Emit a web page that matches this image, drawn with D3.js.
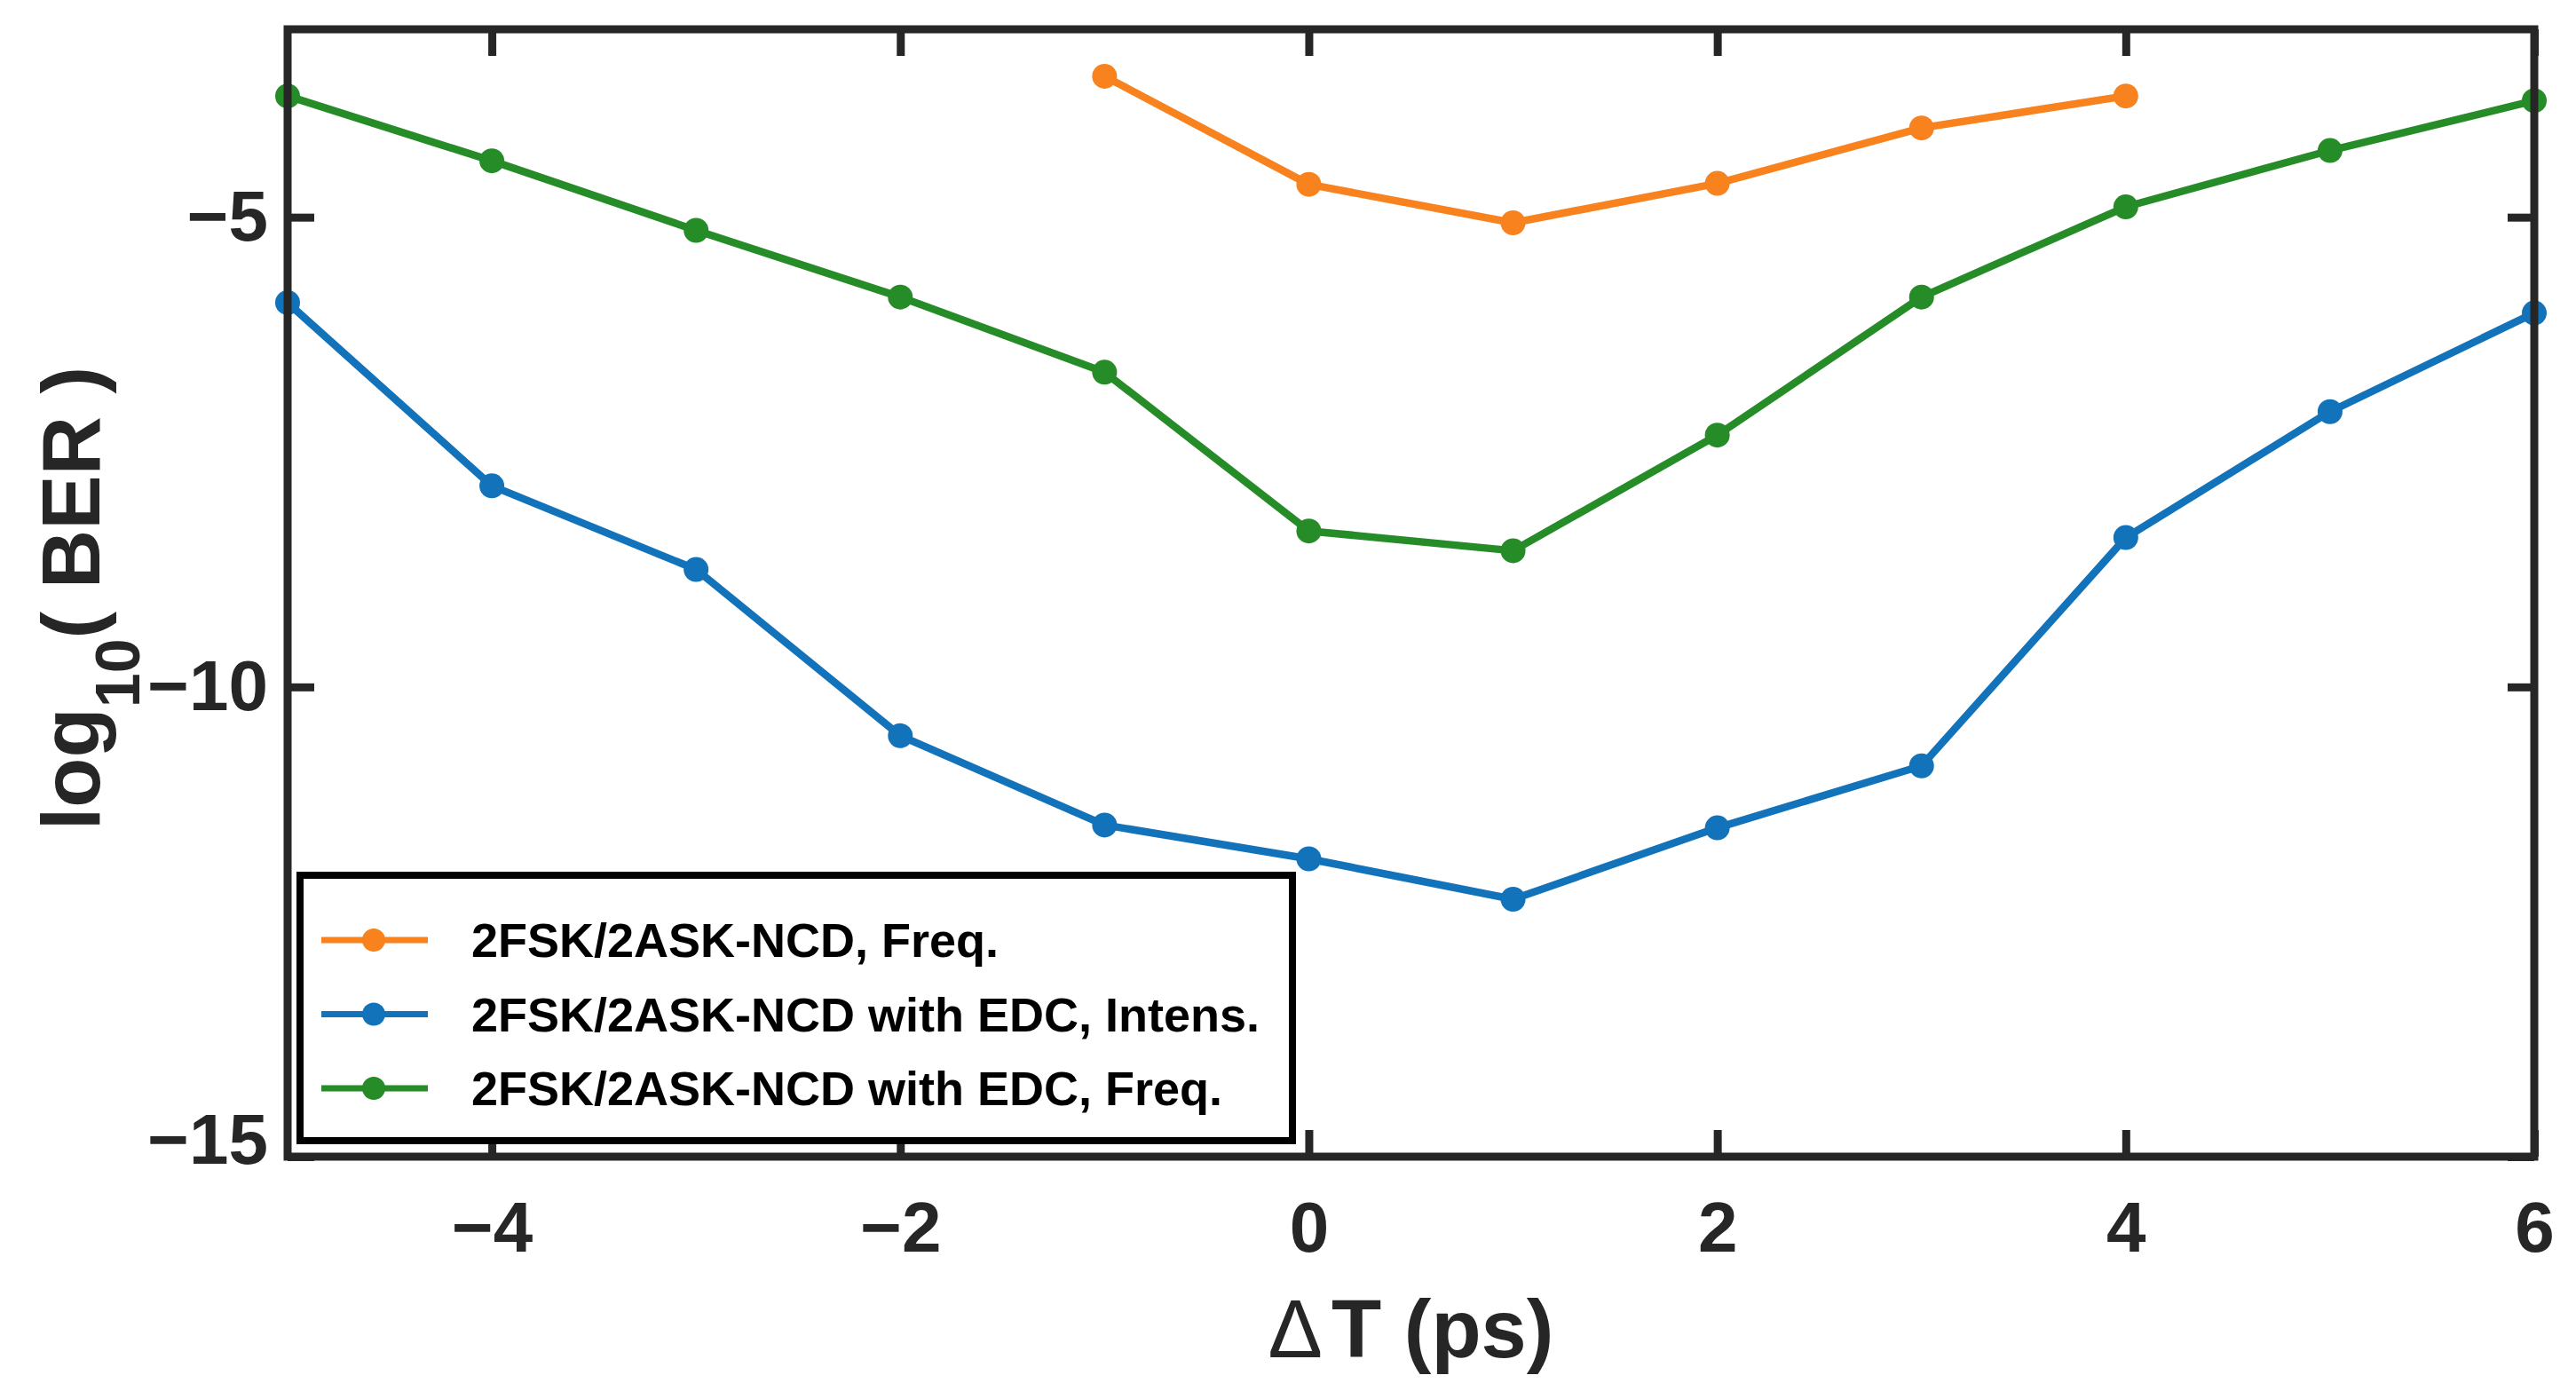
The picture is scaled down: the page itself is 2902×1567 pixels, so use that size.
<!DOCTYPE html>
<html lang="en">
<head>
  <meta charset="UTF-8">
  <title>BER vs delta T</title>
<script src="https://d3js.org/d3.v7.min.js"></script>
<style>
  body { margin: 0; background: #fff; }
  svg { display: block; font-family: "Liberation Sans", Arial, sans-serif; font-weight: bold; }
</style>
</head>
<body>
<div id="chart"></div>

<script>

const xFreq = [-1, 0, 1, 2, 3, 4];
const berFreq = [-3.50, -4.65, -5.06, -4.64, -4.05, -3.71];

const xEdc = [-5, -4, -3, -2, -1, 0, 1, 2, 3, 4, 5, 6];
const berEdcIntens = [-5.91, -7.86, -8.75, -10.52, -11.47, -11.83, -12.26, -11.50, -10.84, -8.41, -7.07, -6.02];
const berEdcFreq = [-3.71, -4.40, -5.14, -5.85, -6.65, -8.34, -8.55, -7.32, -5.85, -4.89, -4.29, -3.76];

const seriesNames = [
  '2FSK/2ASK-NCD, Freq.',
  '2FSK/2ASK-NCD with EDC, Intens.',
  '2FSK/2ASK-NCD with EDC, Freq.'
];
const colors = ['#F7821E', '#1272BA', '#258C27'];

const xTicks = [-4, -2, 0, 2, 4, 6];
const yTicks = [-15, -10, -5];

const series = [
  { name: seriesNames[0], color: colors[0], pts: xFreq.map((x, i) => [x, berFreq[i]]) },
  { name: seriesNames[1], color: colors[1], pts: xEdc.map((x, i) => [x, berEdcIntens[i]]) },
  { name: seriesNames[2], color: colors[2], pts: xEdc.map((x, i) => [x, berEdcFreq[i]]) }
];

const width = 2902;
const height = 1567;
const margin = { left: 324, right: 2855, top: 33, bottom: 1303 };
const axisColor = '#262626';

const x = d3.scaleLinear().domain([-5, 6]).range([margin.left, margin.right]);
const y = d3.scaleLinear().domain([-15, -3]).range([margin.bottom, margin.top]);

const svg = d3.select('#chart')
  .append('svg')
  .attr('width', width)
  .attr('height', height);

// data lines
const line = d3.line().x(d => x(d[0])).y(d => y(d[1]));

series.forEach(s => {
  const g = svg.append('g');
  g.append('path')
    .datum(s.pts)
    .attr('d', line)
    .attr('fill', 'none')
    .attr('stroke', s.color)
    .attr('stroke-width', 8.5)
    .attr('stroke-linejoin', 'round');
  g.selectAll('circle')
    .data(s.pts)
    .enter()
    .append('circle')
    .attr('cx', d => x(d[0]))
    .attr('cy', d => y(d[1]))
    .attr('r', 14)
    .attr('fill', s.color);
});

// axes, ticks pointing inward on all four sides
function styleAxis(g) {
  g.select('.domain').remove();
  g.selectAll('.tick line').attr('stroke', axisColor).attr('stroke-width', 9);
  g.selectAll('.tick text')
    .attr('fill', axisColor)
    .attr('font-size', 80)
    .attr('font-weight', 'bold')
    .attr('font-family', '"Liberation Sans", Arial, sans-serif');
}

svg.append('g')
  .attr('transform', `translate(0,${margin.bottom})`)
  .call(d3.axisBottom(x).tickValues(xTicks).tickSizeInner(-30).tickSizeOuter(0).tickPadding(50))
  .call(styleAxis);

svg.append('g')
  .attr('transform', `translate(0,${margin.top})`)
  .call(d3.axisTop(x).tickValues(xTicks).tickSizeInner(-30).tickSizeOuter(0).tickFormat(''))
  .call(styleAxis);

svg.append('g')
  .attr('transform', `translate(${margin.left},0)`)
  .call(d3.axisLeft(y).tickValues(yTicks).tickSizeInner(-30).tickSizeOuter(0).tickPadding(22))
  .call(styleAxis)
  .call(g => g.selectAll('.tick text').filter(d => d === -15).attr('y', -18));

svg.append('g')
  .attr('transform', `translate(${margin.right},0)`)
  .call(d3.axisRight(y).tickValues(yTicks).tickSizeInner(-30).tickSizeOuter(0).tickFormat(''))
  .call(styleAxis);

svg.append('rect')
  .attr('x', margin.left)
  .attr('y', margin.top)
  .attr('width', margin.right - margin.left)
  .attr('height', margin.bottom - margin.top)
  .attr('fill', 'none')
  .attr('stroke', axisColor)
  .attr('stroke-width', 9);

// axis labels
const xLabel = svg.append('text')
  .attr('x', (margin.left + margin.right) / 2)
  .attr('y', 1529)
  .attr('text-anchor', 'middle')
  .attr('font-size', 92)
  .attr('fill', axisColor);
xLabel.append('tspan').attr('font-weight', 'normal').text('\u0394');
xLabel.append('tspan').attr('dx', 10).text('T (ps)');

const yLabel = svg.append('text')
  .attr('transform', `translate(112,${(margin.top + margin.bottom) / 2 + 6}) rotate(-90)`)
  .attr('text-anchor', 'middle')
  .attr('font-size', 92)
  .attr('fill', axisColor);
yLabel.append('tspan').text('log');
yLabel.append('tspan').attr('font-size', 70).attr('dy', 45).text('10');
yLabel.append('tspan').attr('dy', -45).text('( BER )');

// legend
const legend = svg.append('g');
legend.append('rect')
  .attr('x', 338)
  .attr('y', 986)
  .attr('width', 1456 - 338)
  .attr('height', 1285 - 986)
  .attr('fill', '#fff')
  .attr('stroke', '#000')
  .attr('stroke-width', 8);

const rowY = d3.scalePoint().domain(seriesNames).range([1059, 1226]);

const rows = legend.selectAll('g.row')
  .data(series)
  .enter()
  .append('g')
  .attr('class', 'row')
  .attr('transform', d => `translate(0,${rowY(d.name)})`);

rows.append('line')
  .attr('x1', 362).attr('x2', 482)
  .attr('stroke', d => d.color)
  .attr('stroke-width', 7);
rows.append('circle')
  .attr('cx', 421)
  .attr('r', 13)
  .attr('fill', d => d.color);
rows.append('text')
  .attr('x', 531)
  .attr('y', 19)
  .attr('font-size', 54)
  .attr('fill', '#000')
  .text(d => d.name);

</script>
</body>
</html>
